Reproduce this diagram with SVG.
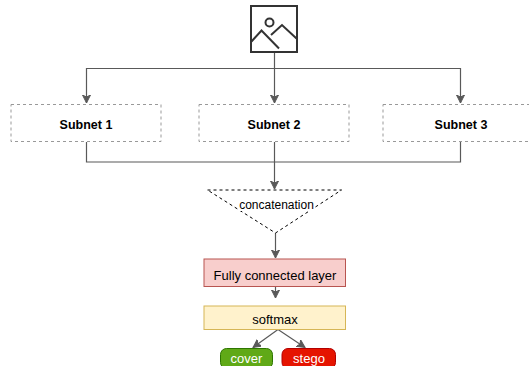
<svg xmlns="http://www.w3.org/2000/svg" width="529" height="366" viewBox="0 0 529 366">
<style>
.t{font-family:"Liberation Sans",Arial,sans-serif;font-size:13px;text-anchor:middle}
.b{font-weight:bold;font-size:12.5px}
.s{font-size:12px}
.sub{fill:#fff;stroke:#999;stroke-dasharray:3 3;stroke-width:1}
.c{fill:none;stroke:#595959;stroke-width:1.2}
</style>
<defs>
<marker id="ah" markerWidth="10" markerHeight="10" refX="8" refY="4" orient="auto" markerUnits="userSpaceOnUse">
<path d="M0,0 L8,4 L0,8 L2,4 Z" fill="#595959" stroke="#595959" stroke-width="1"/>
</marker>
</defs>
<g id="connectors">
<path class="c" d="M274.5,52 V68.5 H86.5 V103" marker-end="url(#ah)"/>
<path class="c" d="M274.5,68.5 V103" marker-end="url(#ah)"/>
<path class="c" d="M274.5,68.5 H460.5 V103" marker-end="url(#ah)"/>
<path class="c" d="M86.5,142 V162 H460.5 V142"/>
<path class="c" d="M274.5,142 V189" marker-end="url(#ah)"/>
<path class="c" d="M275.5,233 V258" marker-end="url(#ah)"/>
<path class="c" d="M275.5,287 V298" marker-end="url(#ah)"/>
<path class="c" d="M278,329.5 L253,347.5" marker-end="url(#ah)"/>
<path class="c" d="M278,329.5 L305,347.5" marker-end="url(#ah)"/>
</g>
<g id="image-icon" fill="none" stroke="#333" stroke-width="2">
<rect x="251" y="6" width="46" height="46"/>
<circle cx="269.5" cy="22.5" r="4"/>
<path d="M251.5,41.5 L261.5,30.5 L279,48.5"/>
<path d="M271,35 L282,25 L296.5,38.5"/>
</g>
<g id="subnet1">
<rect class="sub" x="11" y="104.5" width="150" height="37"/>
<text class="t b" x="86" y="128.5">Subnet 1</text>
</g>
<g id="subnet2">
<rect class="sub" x="199" y="104.5" width="150" height="37"/>
<text class="t b" x="274" y="128.5">Subnet 2</text>
</g>
<g id="subnet3">
<rect class="sub" x="383" y="104.5" width="150" height="37"/>
<text class="t b" x="461" y="128.5">Subnet 3</text>
</g>
<g id="concatenation">
<path d="M207.5,190 H341.5 L275.5,233 Z" fill="#fff" stroke="#000" stroke-width="1" stroke-dasharray="3 3"/>
<rect x="238" y="197" width="77" height="14" fill="#fff"/>
<text class="t s" x="276.5" y="208.5">concatenation</text>
</g>
<g id="fc">
<rect x="204" y="259" width="141.5" height="27.5" fill="#f8cecc" stroke="#b85450" stroke-width="1"/>
<text class="t" x="275" y="279.5">Fully connected layer</text>
</g>
<g id="softmax">
<rect x="204" y="306" width="141.5" height="23.5" fill="#fff2cc" stroke="#d6b656" stroke-width="1"/>
<text class="t" x="275" y="323.5">softmax</text>
</g>
<g id="cover">
<rect x="220.5" y="348.5" width="52" height="20" rx="6" fill="#60a917" stroke="#2d7600" stroke-width="1"/>
<text class="t" x="246.5" y="363" fill="#fff">cover</text>
</g>
<g id="stego">
<rect x="282" y="348.5" width="53.5" height="20" rx="6" fill="#e51400" stroke="#b20000" stroke-width="1"/>
<text class="t" x="309" y="363" fill="#fff">stego</text>
</g>
</svg>
